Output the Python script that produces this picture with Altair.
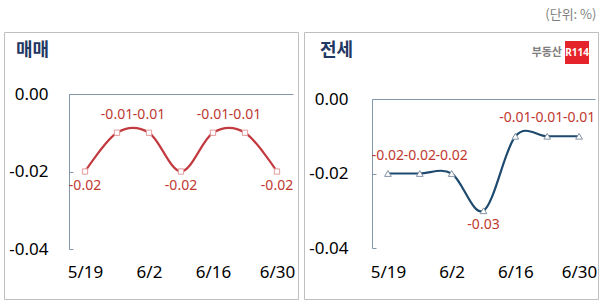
import altair as alt
import pandas as pd

# ---- data ----
dates = ["5/19", "5/26", "6/2", "6/9", "6/16", "6/23", "6/30"]
axis_dates = ["5/19", "6/2", "6/16", "6/30"]
sale = [-0.02, -0.01, -0.01, -0.02, -0.01, -0.01, -0.02]
jeonse = [-0.02, -0.02, -0.02, -0.03, -0.01, -0.01, -0.01]
y_ticks = [0.0, -0.02, -0.04]
panel_titles = ["매매", "전세"]
unit_text = "(단위: %)"
logo_text = "부동산"
logo_badge = "R114"

# label placement (above / below each point)
sale_place = ["below", "above", "above", "below", "above", "above", "below"]
jeonse_place = ["above", "above", "above", "below", "above", "above", "above"]

FONT = "Noto Sans"
KFONT = "Noto Sans CJK KR"
AX = "#8397ac"
LBL = "#c0392f"
W, H = 294, 267
Y_LABEL_EXPR = "replace(format(datum.value, '.2f'), '\u2212', '-')"


def panel(title, values, places, line_color, shape, m_fill, m_stroke, m_size,
          xr, yr, title_x, up, down, lab_pad, logo=False):
    df = pd.DataFrame({"date": dates, "value": values, "place": places,
                       "label": [f"{v:.2f}" for v in values]})
    base = alt.Chart(df)
    x_sc = alt.Scale(type="point", padding=0.5, range=xr, domain=dates)
    y_sc = alt.Scale(domain=[-0.04, 0], range=yr, nice=False, zero=False)

    line = base.mark_line(interpolate="cardinal", color=line_color, strokeWidth=2.2).encode(
        x=alt.X("date:O", scale=x_sc, sort=dates, title=None,
                axis=alt.Axis(orient="bottom", values=axis_dates, offset=-35, domain=False,
                              ticks=False, labelPadding=0, labelFontSize=17, labelColor="#000",
                              labelFont=FONT, labelAngle=0, grid=False)),
        y=alt.Y("value:Q", scale=y_sc, title=None,
                axis=alt.Axis(orient="left", values=y_ticks, labelExpr=Y_LABEL_EXPR,
                              offset=-xr[0], domain=True, domainColor=AX, domainWidth=1,
                              ticks=False, labelPadding=lab_pad, labelFontSize=17,
                              labelColor="#000", labelFont=FONT, grid=False)),
    )
    pts = base.mark_point(shape=shape, filled=True, fill=m_fill, stroke=m_stroke,
                          strokeWidth=1, size=m_size, opacity=1).encode(
        x=alt.X("date:O", scale=x_sc, sort=dates, title=None,
                axis=alt.Axis(orient="top", offset=-yr[1], domain=True, domainColor=AX,
                              domainWidth=1, ticks=False, labels=False, grid=False)),
        y=alt.Y("value:Q", scale=y_sc, title=None,
                axis=alt.Axis(orient="right", values=y_ticks, offset=-(W - xr[0]),
                              domain=False, ticks=True, tickSize=4, tickColor=AX,
                              labels=False, grid=False)),
    )
    enc = dict(
        x=alt.X("date:O", scale=x_sc, sort=dates, axis=None),
        y=alt.Y("value:Q", scale=y_sc, axis=None),
        text="label:N",
    )
    txt_up = base.transform_filter(alt.datum.place == "above").mark_text(
        fontSize=14, font=FONT, color=LBL, baseline="middle", dy=up).encode(**enc)
    txt_dn = base.transform_filter(alt.datum.place == "below").mark_text(
        fontSize=14, font=FONT, color=LBL, baseline="middle", dy=down).encode(**enc)
    ttl = alt.Chart(pd.DataFrame({"t": [title]})).mark_text(
        align="left", baseline="middle", fontSize=18, fontWeight="bold", font=KFONT,
        color="#1f3864").encode(x=alt.value(title_x), y=alt.value(19), text="t:N")
    layers = [line, pts, txt_up, txt_dn, ttl]
    if logo:
        rect = alt.Chart(pd.DataFrame({"t": [logo_badge]})).mark_rect(color="#e5232a").encode(
            x=alt.value(261), x2=alt.value(285), y=alt.value(9), y2=alt.value(32))
        badge = alt.Chart(pd.DataFrame({"t": [logo_badge]})).mark_text(
            align="center", baseline="middle", fontSize=10, fontWeight="bold", font=FONT,
            color="white").encode(x=alt.value(273), y=alt.value(21), text="t:N")
        word = alt.Chart(pd.DataFrame({"t": [logo_text]})).mark_text(
            align="right", baseline="middle", fontSize=11, fontWeight="bold", font=KFONT,
            color="#7f7f7f").encode(x=alt.value(258), y=alt.value(21), text="t:N")
        layers += [rect, badge, word]
    return alt.layer(*layers).resolve_axis(x="independent", y="independent").properties(
        width=W, height=H)


left = panel(panel_titles[0], sale, sale_place, "#c23a40", "square", "white", "#e39a9a", 28,
             [65, 289], [217, 62], 12, -18, 14, 21)
right = panel(panel_titles[1], jeonse, jeonse_place, "#1d4a6e", "triangle-up", "white", "#8494a6",
              45, [68, 291], [216, 67], 16, -18, 14, 24, logo=True)

chart = alt.hconcat(left, right, spacing=4).properties(
    title=alt.TitleParams(unit_text, anchor="end", fontSize=13, color="#7f7f7f", font=KFONT,
                          fontWeight="normal", offset=10, dx=-2),
    padding={"left": 3, "top": 8, "right": 0, "bottom": 0},
).configure_view(stroke="#bfbfbf", strokeWidth=1)

chart.save("out.html", embed_options={"renderer": "svg", "actions": False})
